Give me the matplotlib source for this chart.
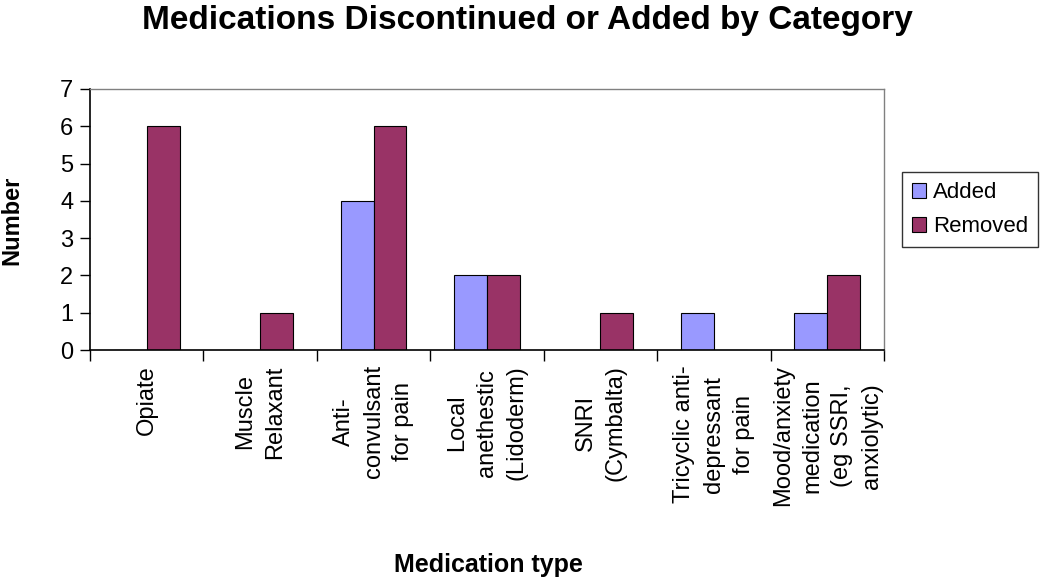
import matplotlib
matplotlib.use("Agg")
import matplotlib.pyplot as plt
import numpy as np
from matplotlib.ticker import FixedLocator

categories = ["Opiate", "Muscle\nRelaxant", "Anti-\nconvulsant\nfor pain",
              "Local\nanethestic\n(Lidoderm)", "SNRI\n(Cymbalta)",
              "Tricyclic anti-\ndepressant\nfor pain",
              "Mood/anxiety\nmedication\n(eg SSRI,\nanxiolytic)"]
added = [0, 0, 4, 2, 0, 1, 1]
removed = [6, 1, 6, 2, 1, 0, 2]
series_names = ["Added", "Removed"]
colors = ["#9999FF", "#993366"]

plt.rcParams['font.family'] = ['Liberation Sans', 'DejaVu Sans']

fig = plt.figure(figsize=(10.5, 5.79), dpi=100)
ax = fig.add_axes([0.0857, 0.3955, 0.7563, 0.4508])

x = np.arange(len(categories))
w = 0.29
ax.bar(x - w/2, added, w, color=colors[0], edgecolor="black", linewidth=0.8, label=series_names[0])
ax.bar(x + w/2, removed, w, color=colors[1], edgecolor="black", linewidth=0.8, label=series_names[1])

ax.set_xlim(-0.5, len(categories) - 0.5)
ax.set_ylim(0, 7)
ax.set_yticks(range(0, 8))
ax.tick_params(axis='y', direction='out', length=7, width=1, labelsize=17, pad=5, color='black')
ax.set_xticks(x)
ax.set_xticklabels(categories, rotation=90, fontsize=17, va='top', ha='center',
                   multialignment='center', linespacing=1.45)
ax.tick_params(axis='x', which='major', length=0, pad=11)
ax.xaxis.set_minor_locator(FixedLocator(np.arange(-0.5, len(categories), 1.0)))
ax.tick_params(axis='x', which='minor', direction='out', length=8, width=1, color='black')

for s in ['top', 'right']:
    ax.spines[s].set_color('#808080')
    ax.spines[s].set_linewidth(1)
for s in ['left', 'bottom']:
    ax.spines[s].set_color('black')
    ax.spines[s].set_linewidth(1.2)

fig.text(12/1050, 1 - 220/579, "Number", fontsize=17, fontweight='bold', rotation=90,
         ha='center', va='center')
fig.text(488/1050, 1 - 565/579, "Medication type", fontsize=18, fontweight='bold',
         ha='center', va='center')
fig.text(527/1050, 1 - 20/579, "Medications Discontinued or Added by Category", fontsize=24,
         fontweight='bold', ha='center', va='center')

leg = fig.legend(loc='upper left', bbox_to_anchor=(902/1050, 1 - 172/579), fontsize=16,
                 frameon=True, fancybox=False, edgecolor='black', handlelength=0.65,
                 handleheight=0.65, handletextpad=0.3, borderpad=0.45, labelspacing=0.6,
                 borderaxespad=0)
leg.get_frame().set_linewidth(1)

fig.savefig("out.png", dpi=100)
